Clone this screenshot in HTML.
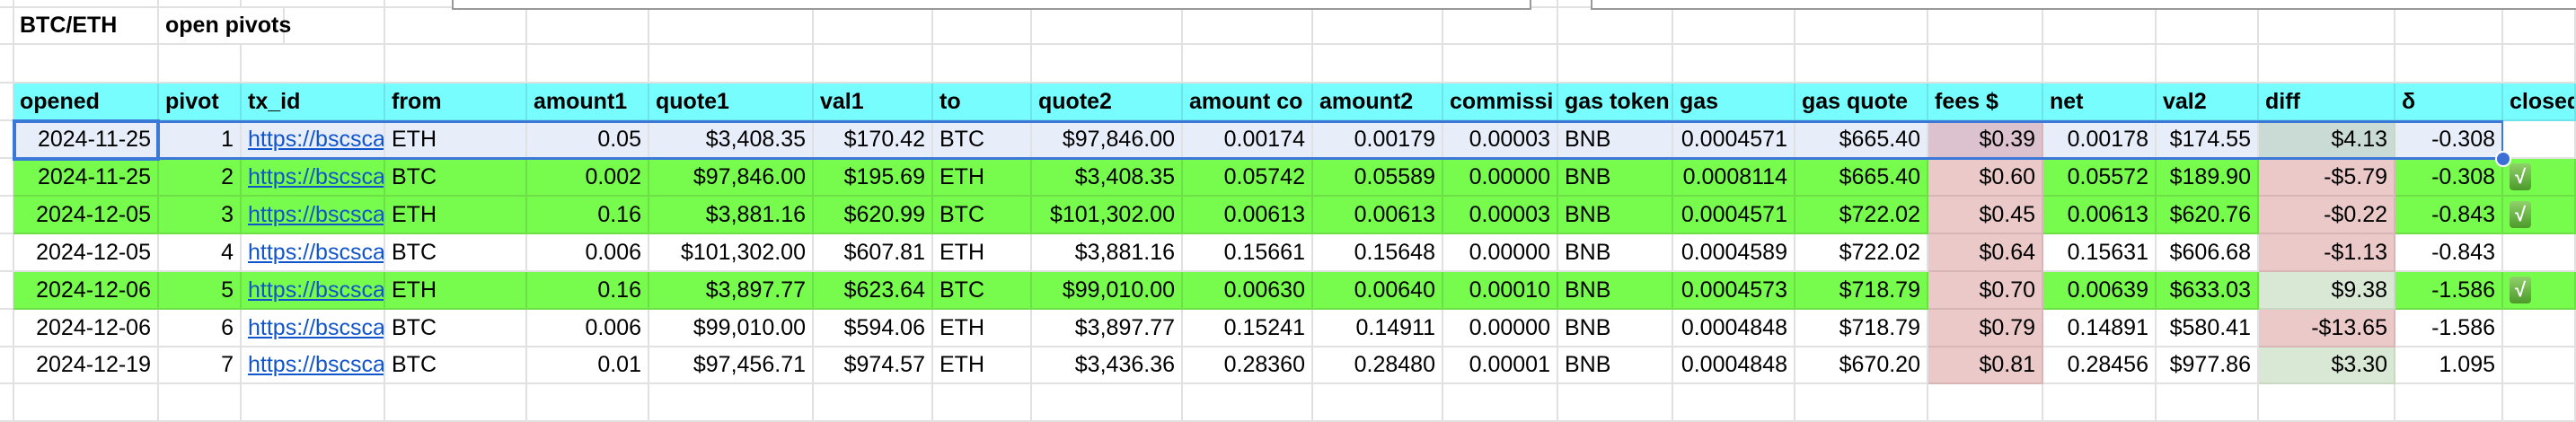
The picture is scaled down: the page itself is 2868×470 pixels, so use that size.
<!DOCTYPE html>
<html><head><meta charset="utf-8"><style>
html,body{margin:0;padding:0;background:#fff;}
body{width:2868px;height:454px;overflow:hidden;position:relative;font-family:"Liberation Sans",Arial,sans-serif;font-size:25px;color:#000;}
.c{position:absolute;box-sizing:border-box;border-right:2px solid #e1e1e1;border-bottom:2px solid #e1e1e1;overflow:hidden;white-space:nowrap;padding:0 7px;display:flex;align-items:center;}
.r{justify-content:flex-end;}
.b{font-weight:bold;}
.hd{background:#78fdfe;border-color:#6ee3e8;}
.gr{background:#77fb4c;border-color:#6ce046;}
.sel{background:#e8eef9;}
.pk{background:#eac9c8;border-color:#d8b6b5;}
.lg{background:#d9e8d4;border-color:#c8d8c3;}
a{color:#1155cc;text-decoration:underline;}
.box{position:absolute;top:-2px;height:13px;border:2px solid #999;border-top:none;background:#fff;box-sizing:border-box;}
.chk{display:inline-block;width:24px;height:30px;border-radius:4px;background:linear-gradient(#8fd16a,#4c9a2a);color:#fff;font-size:22px;line-height:30px;text-align:center;font-weight:bold;}
</style></head><body>
<div id="grid"></div>
<div class="box" style="left:503px;width:1202px;"></div>
<div class="box" style="left:1771px;width:1110px;"></div>
<script>
const colX=[15,177,269,429,587,723,906,1039,1149,1317,1462,1607,1735,1863,1999,2147,2275,2401,2515,2667,2787,2868];
const headers=["opened","pivot","tx_id","from","amount1","quote1","val1","to","quote2","amount co","amount2","commissi","gas token","gas","gas quote","fees $","net","val2","diff","δ","closed"];
const leftCols=[2,3,7,12,20];
const rows=[
["2024-11-25","1","https://bscscan","ETH","0.05","$3,408.35","$170.42","BTC","$97,846.00","0.00174","0.00179","0.00003","BNB","0.0004571","$665.40","$0.39","0.00178","$174.55","$4.13","-0.308",""],
["2024-11-25","2","https://bscscan","BTC","0.002","$97,846.00","$195.69","ETH","$3,408.35","0.05742","0.05589","0.00000","BNB","0.0008114","$665.40","$0.60","0.05572","$189.90","-$5.79","-0.308","✓"],
["2024-12-05","3","https://bscscan","ETH","0.16","$3,881.16","$620.99","BTC","$101,302.00","0.00613","0.00613","0.00003","BNB","0.0004571","$722.02","$0.45","0.00613","$620.76","-$0.22","-0.843","✓"],
["2024-12-05","4","https://bscscan","BTC","0.006","$101,302.00","$607.81","ETH","$3,881.16","0.15661","0.15648","0.00000","BNB","0.0004589","$722.02","$0.64","0.15631","$606.68","-$1.13","-0.843",""],
["2024-12-06","5","https://bscscan","ETH","0.16","$3,897.77","$623.64","BTC","$99,010.00","0.00630","0.00640","0.00010","BNB","0.0004573","$718.79","$0.70","0.00639","$633.03","$9.38","-1.586","✓"],
["2024-12-06","6","https://bscscan","BTC","0.006","$99,010.00","$594.06","ETH","$3,897.77","0.15241","0.14911","0.00000","BNB","0.0004848","$718.79","$0.79","0.14891","$580.41","-$13.65","-1.586",""],
["2024-12-19","7","https://bscscan","BTC","0.01","$97,456.71","$974.57","ETH","$3,436.36","0.28360","0.28480","0.00001","BNB","0.0004848","$670.20","$0.81","0.28456","$977.86","$3.30","1.095",""]
];
const greenRows=[1,2,4];
const rowY=[-2,9,50,93,135,177,219,261,303,345,387,428,470];
const g=document.getElementById('grid');
function cell(x,y,w,h,cls,html){
  const d=document.createElement('div');
  d.className='c '+cls;
  d.style.left=x+'px';d.style.top=y+'px';d.style.width=w+'px';d.style.height=h+'px';
  d.innerHTML=html;g.appendChild(d);return d;
}
// row-number stub column
for(let r=0;r<rowY.length-1;r++){
  const d=cell(0,rowY[r],15,rowY[r+1]-rowY[r],'','');
  
  
}
for(let r=0;r<rowY.length-1;r++){
  const y=rowY[r],h=rowY[r+1]-y;
  for(let c=0;c<headers.length;c++){
    const x=colX[c],w=colX[c+1]-x;
    let cls='',html='',name='empty-cell';
    const al=leftCols.includes(c)?'':'r';
    if(r===1&&c===0){html='BTC/ETH';cls='b';name='sheet-title';}
    else if(r===1&&c===1){html='open pivots';cls='b';name='sheet-subtitle';w2=1;}
    else if(r===3){html=headers[c];cls='hd b';name='header-'+headers[c].replace(/[^a-z0-9]+/gi,'-');}
    else if(r>=4&&r<=10){
      const i=r-4,v=rows[i][c];
      cls=al;
      if(greenRows.includes(i))cls+=' gr';
      else if(i===0&&c<20)cls+=' sel';
      if(c===15)cls+=' pk';
      if(c===18)cls+=v.startsWith('-')?' pk':' lg';
      if(i===0&&(c===15||c===18))cls+=' sel1';
      if(c===2)html='<a>'+v+'</a>';
      else if(c===20&&v)html='<span class="chk">√</span>';
      else html=v;
      name='cell-'+headers[c].replace(/[^a-z0-9]+/gi,'-')+'-row'+(i+1);
    }
    const d=cell(x,y,w,h,cls,html);
    if(r===1&&c===1){d.style.overflow='visible';d.style.width='140px';}
    if(d.classList.contains('sel1')){d.style.background=c===15?'#dcc2ce':'#c9dbd4';}
    
    
  }
}
// selection outlines
const s1=document.createElement('div');
s1.style.cssText='position:absolute;left:15px;top:134px;width:2772px;height:44px;border-top:3px solid #3c78d8;border-bottom:3px solid #3c78d8;border-right:2px solid #3c78d8;box-sizing:border-box;';


document.body.appendChild(s1);
const s2=document.createElement('div');
s2.style.cssText='position:absolute;left:14px;top:133px;width:164px;height:46px;border:4px solid #3c78d8;box-sizing:border-box;';


document.body.appendChild(s2);
const h=document.createElement('div');
h.style.cssText='position:absolute;left:2778px;top:168px;width:18px;height:18px;border-radius:50%;background:#3c6fd6;border:2px solid #fff;box-sizing:border-box;';


document.body.appendChild(h);
</script>
</body></html>
